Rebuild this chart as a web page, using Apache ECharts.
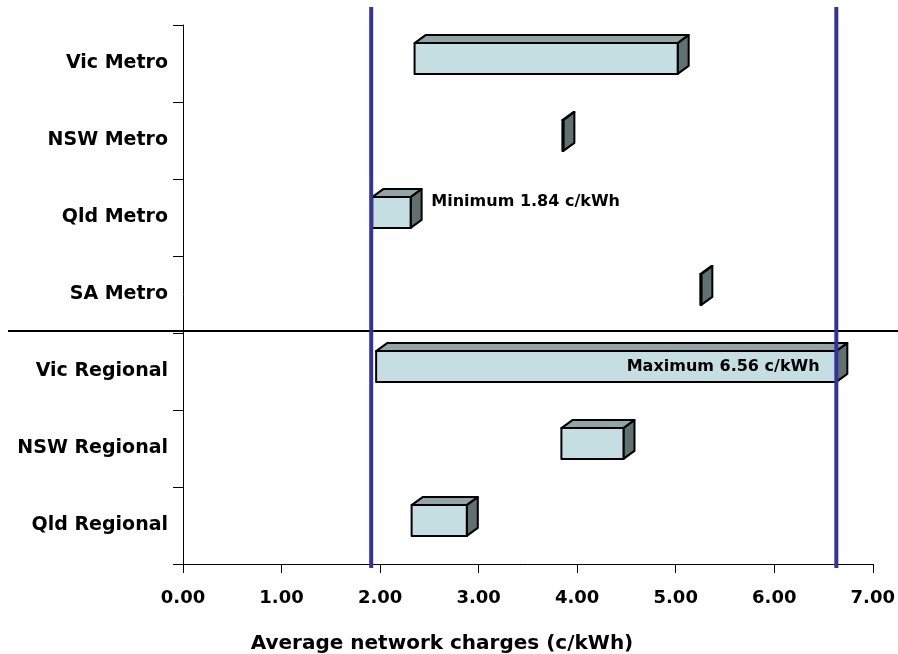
<!DOCTYPE html>
<html>
<head>
<meta charset="utf-8">
<script src="https://cdn.jsdelivr.net/npm/echarts@6/dist/echarts.min.js"></script>
<style>html,body{margin:0;padding:0;background:#fff}#c{width:898px;height:654px}</style>
</head>
<body>
<div id="c"></div>
<script>
var categories = ['Vic Metro', 'NSW Metro', 'Qld Metro', 'SA Metro', 'Vic Regional', 'NSW Regional', 'Qld Regional'];
var rangeStart = [2.35, 3.85, 1.92, 5.25, 1.96, 3.84, 2.32];
var rangeEnd   = [5.02, 3.86, 2.31, 5.26, 6.63, 4.47, 2.88];
var xTicks = [0, 1, 2, 3, 4, 5, 6, 7];
var refLines = [1.91, 6.63];
var xTitle = 'Average network charges (c/kWh)';
var annotations = [
  {text: 'Minimum 1.84 c/kWh', x: 2.52, cat: 'Qld Metro', align: 'left', dy: -0.2},
  {text: 'Maximum 6.56 c/kWh', x: 6.46, cat: 'Vic Regional', align: 'right', dy: -0.06}
];
var FONT = '"DejaVu Sans", "Liberation Sans", Arial, sans-serif';

var seriesData = categories.map(function (c, i) { return [i, rangeStart[i], rangeEnd[i]]; });

var chart = echarts.init(document.getElementById('c'), null, {renderer: 'canvas'});
var BORDER = {stroke: '#000', lineWidth: 2, lineJoin: 'round'};
chart.setOption({
  animation: false,
  backgroundColor: '#fff',
  grid: {left: 183, right: 25, top: 25, bottom: 90, containLabel: false},
  xAxis: {
    type: 'value', min: xTicks[0], max: xTicks[xTicks.length - 1], interval: 1,
    axisLine: {show: true, lineStyle: {color: '#000', width: 1}},
    axisTick: {show: true, length: 9, lineStyle: {color: '#000'}},
    axisLabel: {fontFamily: FONT, fontWeight: 'bold', fontSize: 18, color: '#000', margin: 25,
      formatter: function (v) { return v.toFixed(2); }},
    splitLine: {show: false}
  },
  yAxis: {
    type: 'category', data: categories, inverse: true,
    axisLine: {show: true, lineStyle: {color: '#000', width: 1}},
    axisTick: {show: true, length: 10, lineStyle: {color: '#000'}},
    axisLabel: {fontFamily: FONT, fontWeight: 'bold', fontSize: 19, color: '#000', margin: 15},
    splitLine: {show: false}
  },
  series: [{
    type: 'custom',
    data: seriesData,
    encode: {y: 0, x: [1, 2]},
    renderItem: function (params, api) {
      var cat = api.value(0);
      var p0 = api.coord([api.value(1), cat]);
      var p1 = api.coord([api.value(2), cat]);
      var band = api.size([0, 1])[1];
      var h = band * 0.40;
      var yc = p0[1] - band * 0.065;
      var x0 = p0[0], x1 = p1[0], top = yc - h / 2, bot = yc + h / 2;
      var dx = 11, dy = 8;
      return {
        type: 'group',
        children: [
          {type: 'polygon', shape: {points: [[x0, top], [x0 + dx, top - dy], [x1 + dx, top - dy], [x1, top]]},
            style: Object.assign({fill: '#8FA5A7'}, BORDER)},
          {type: 'polygon', shape: {points: [[x1, top], [x1 + dx, top - dy], [x1 + dx, bot - dy], [x1, bot]]},
            style: Object.assign({fill: '#5F7170'}, BORDER)},
          {type: 'rect', shape: {x: x0, y: top, width: Math.max(x1 - x0, 0.5), height: h},
            style: Object.assign({fill: '#C5DEE1'}, BORDER)}
        ]
      };
    }
  }]
});

function drawGraphics() {
  var els = [];
  var cy3 = chart.convertToPixel({yAxisIndex: 0}, categories[3]);
  var cy4 = chart.convertToPixel({yAxisIndex: 0}, categories[4]);
  var band = cy4 - cy3;
  var sepY = (cy3 + cy4) / 2 - 2;
  els.push({type: 'line', shape: {x1: 8, y1: sepY, x2: 898, y2: sepY}, style: {stroke: '#000', lineWidth: 2}, z: 100});
  var yTop = chart.convertToPixel({yAxisIndex: 0}, categories[0]) - band / 2;
  var yBot = chart.convertToPixel({yAxisIndex: 0}, categories[categories.length - 1]) + band / 2;
  refLines.forEach(function (v) {
    var x = chart.convertToPixel({xAxisIndex: 0}, v);
    els.push({type: 'line', shape: {x1: x, y1: yTop - 18, x2: x, y2: yBot + 4}, style: {stroke: '#333399', lineWidth: 4}, z: 101});
  });
  annotations.forEach(function (a) {
    var x = chart.convertToPixel({xAxisIndex: 0}, a.x);
    var y = chart.convertToPixel({yAxisIndex: 0}, a.cat) + a.dy * band;
    els.push({type: 'text', x: x, y: y, z: 102,
      style: {text: a.text, fontFamily: FONT, fontWeight: 'bold', fontSize: 16, fill: '#000',
        align: a.align, verticalAlign: 'middle'}});
  });
  els.push({type: 'text', x: 442, y: 644, z: 102,
    style: {text: xTitle, fontFamily: FONT, fontWeight: 'bold', fontSize: 20, fill: '#000',
      align: 'center', verticalAlign: 'middle'}});
  chart.setOption({graphic: els});
}
drawGraphics();
</script>
</body>
</html>
